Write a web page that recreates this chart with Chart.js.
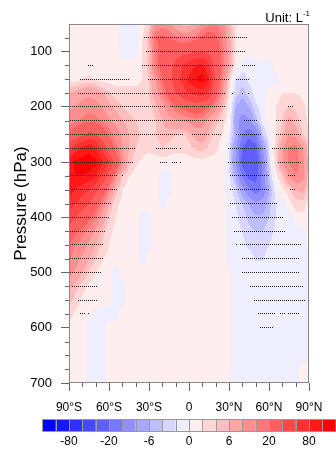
<!DOCTYPE html>
<html>
<head>
<meta charset="utf-8">
<script src="https://cdn.jsdelivr.net/npm/chart.js@4/dist/chart.umd.min.js"></script>
<style>
  html, body { margin: 0; padding: 0; background: #fff; }
  canvas { display: block; }
</style>
</head>
<body>
<canvas id="myChart" width="336" height="449"></canvas>
<script>
var FONT = '"Liberation Sans", Arial, Helvetica, sans-serif';

// grid of the field: latitude columns, pressure rows
var lats = [-90,-85,-80,-75,-70,-65,-60,-55,-50,-45,-40,-35,-30,-25,-20,-15,-10,-5,0,
            5,10,15,20,25,30,35,40,45,50,55,60,65,70,75,80,85,90];
var pressures = [50,75,100,125,150,175,200,225,250,275,300,325,350,375,400,425,450,475,
                 500,525,550,575,600,625,650,675,700];

// one row per pressure level, one value per latitude (L^-1)
var field = [
  [1,1,1,1,1,1,1,1,-1,-1,-1,1,3,10,12,11,6,5,5,7,10,14,15,12,6,2,1,1,1,1,1,1,1,1,1,1,1],
  [1,1,1,1,1,1,1,1,-1,-1,-1,2,5,20,22,20,16,13,13,16,22,25,22,15,7,2,1,1,1,1,1,1,1,1,1,1,1],
  [1,1,1,1,1,1,1,1,-1,-1,-1,2,5,17,25,32,32,32,35,40,40,35,30,17,8,2,1,1,1,1,1,1,1,1,1,1,1],
  [1,1,1,1,1,1,1,1,1,1,1,2,5,17,25,32,45,60,70,80,85,60,30,17,8,1,-1,-2,-1,-1,-1,1,1,1,1,1,1],
  [1,1,2,2.5,1.5,1,1,1,1,1,1,2,4,10,20,35,50,65,85,100,110,80,35,14,3,-2,-3,-1.5,-1,-1,-1,-1,1,1,1,1,1],
  [6,7,8,9,8,6,4,3,3,3,3,3,4,8,14,25,40,50,60,65,70,55,25,10,2,-3,-5,-3,-1,-1,1,1,2,2,2,1.5,1],
  [9,10,12,13,12,10,7,5,4,3,3,3,3,5,8,13,18,22,25,30,25,18,12,5,1,-6,-8,-6,-2.5,-1,1,2,3,4,3.5,2.5,1.5],
  [12,14,16,18,17,14,11,8,6,5,4,3,2.5,4,6,8,9,10,11,13,12,8,5,3,1,-8,-12,-11,-5,-1.5,1,2,4,7,5,3,1.5],
  [20,28,35,45,40,28,18,13,9,6,5,3.5,3,4,5,5,4,3,5,7,8,5,3,2,-1,-6,-15,-18,-15,-4,-1,2,5,10,8,4,2],
  [50,70,85,95,80,55,30,17,10,6,4,3,2.5,3,4,3,2.5,2.5,3,4.5,5,3.5,2.5,1,-2,-9,-20,-25,-22,-10,-2,3,9,16,17,10,4],
  [90,105,110,112,105,85,60,30,12,5,2.5,1.5,1,1,1,1,1,1,1,1,1,1,1,1,-2,-10,-22,-28,-25,-14,-3,3,9,16,18,12,5],
  [95,100,100,95,80,55,30,12,4,2,1,1,1,1,-1,-1,1,1,1,1,1,1,1,1,-1.5,-6,-16,-22,-22,-14,-4,1,4,10,15,12,4],
  [90,80,70,60,45,28,13,5,2,1,1,1,1,1,-1,-1,1,1,1,1,1,1,1,1,-1,-3,-8,-14,-18,-14,-6,-1,1.5,3,6,7,3],
  [70,60,50,40,25,14,6,2.5,1.5,1,1,1,1,1,-1,1,1,1,1,1,1,1,1,1,-1,-2,-4,-6,-9,-8,-5,-2,-1,1.5,3,3,1.5],
  [50,40,30,22,15,8,4,2,1,1,1,-1,-1,1,1,1,1,1,1,1,1,1,1,1,-1,-1.5,-3,-4.5,-5.5,-5.5,-4,-2,-1,-1,1,1.5,1],
  [30,22,17,13,9,5,2.5,1.5,1,1,1,-1,-1,1,1,1,1,1,1,1,1,1,1,1,-1,-1,-2,-3.5,-4,-4,-3,-1.5,-1,-1,-1,-1,1],
  [18,15,12,9,6,3.5,2,1,1,1,1,-1,-1,1,1,1,1,1,1,1,1,1,1,1,-1,-1,-1.5,-2.5,-3,-3,-2,-1,-1,-1,-1,-1,1],
  [16,12,9,6,4,2,1.5,1,1,1,1,-1,1,1,1,1,1,1,1,1,1,1,1,1,-1,-1,-1,-1,-2.2,-2.2,-1,-1,-1,-1,-1,-1,-1],
  [12,9,6,3.5,2,1,1,-1,1,1,1,1,1,1,1,1,1,1,1,1,1,1,1,1,0.5,-1,-1,-1,-1,-1,-1,-1,-1,-1,-1,-1,-1],
  [7,5,3,1.5,1,1,1,-1,-1,1,1,1,1,1,1,1,1,1,1,1,1,1,1,1,0.5,-1,-1,-1,-1,-1,-1,-1,-1,-1,-1,-1,-1],
  [5,3,1.5,1,1,1,1,-1,-1,1,1,1,1,1,1,1,1,1,1,1,1,1,1,1,0.5,-1,-1,-1,-1,-1,-1,-1,-1,-1,-1,-1,-1],
  [3,1.5,1,1,-1,-1,-1,-1,1,1,1,1,1,1,1,1,1,1,1,1,1,1,1,1,0.5,-1,-1,-1,-1,-1,-1,-1,-1,-1,-1,-1,-1],
  [1,1,1,-1,-1,-1,1,1,1,1,1,1,1,1,1,1,1,1,1,1,1,1,1,1,0.5,-1,-1,-1,-1,-1,-1,-1,-1,-1,-1,-1,-1],
  [1,1,1,-1,-1,-1,1,1,1,1,1,1,1,1,1,1,1,1,1,1,1,1,1,1,0.5,-1,-1,-1,-1,-1,-1,-1,-1,-1,-1,-1,-1],
  [1,1,1,-1,-1,-1,1,1,1,1,1,1,1,1,1,1,1,1,1,1,1,1,1,1,0.5,-1,-1,-1,-1,-1,-1,-1,-1,-1,-1,-1,-1],
  [1,1,1,-1,-1,-1,1,1,1,1,1,1,1,1,1,1,1,1,1,1,1,1,1,1,0.5,-1,-1,-1,-1,-1,-1,-1,-1,-1,-1,1,1],
  [1,1,1,-1,-1,-1,1,1,1,1,1,1,1,1,1,1,1,1,1,1,1,1,1,1,0.5,-1,-1,-1,-1,-1,-1,-1,-1,-1,-1,1,1]
];

// contour levels and the 22 fill colours between them
var levels = [-100,-80,-60,-40,-20,-15,-10,-6,-4,-2,0,2,4,6,10,15,20,40,60,80,100];
var levelLabels = ['-80','-20','-6','0','6','20','80'];
var fillColors = ['#0000ff','#1818ff','#3030ff','#4747ff','#5f5fff','#7777ff','#8f8fff',
                  '#a7a7ff','#bebeff','#d6d6ff','#eeeeff',
                  '#ffeeee','#ffd6d6','#ffbebe','#ffa7a7','#ff8f8f','#ff7777','#ff5f5f',
                  '#ff4747','#ff3030','#ff1818','#ff0000'];

// significant points: [pressure, from lat, to lat]
var stipple = [
  [50,-25.5,-16],[50,23,38],
  [75,-34,43],
  [100,-32,41],
  [125,-76,-72],[125,-35.5,-32.5],[125,-30,33],[125,40,49],
  [150,-81,-46],[150,-30,30],[150,35,45],
  [175,-83,26],[175,32.5,32.5],[175,40,40],[175,44.5,44.5],
  [200,-89,-18],[200,-14,26],[200,74,77],
  [225,-89,25],[225,42,51],[225,66,83],
  [250,-89,-5],[250,2,13],[250,15,15],[250,18,24],[250,36,53],[250,66,83],
  [275,-89,-40.5],[275,-24,-9],[275,-7,-7],[275,30,57],[275,63,85],
  [300,-89,-42],[300,-22,-17],[300,-13,-10],[300,-7,-7],[300,30,58],[300,67,83],
  [325,-89,-55],[325,-50,-50],[325,30.5,60],[325,74,79],
  [350,-89,-55],[350,30.5,60],[350,76,79],
  [375,-89,-59],[375,30.5,66],
  [400,-89,-61],[400,32.5,70],
  [425,-89,-63],[425,34.5,71.5],
  [450,-89,-65],[450,35,35],[450,38,83],
  [475,-89,-65],[475,40,82.5],
  [500,-89,-67],[500,40,82.5],
  [525,-87,-69],[525,46,84.5],
  [550,-83,-70],[550,49.5,86],
  [575,-81,-78],[575,-75,-75],[575,51.5,64],[575,68,72],[575,74.5,82.5],
  [600,53,62]
];

var latLabels = {'-90':'90°S', '-60':'60°S', '-30':'30°S', '0':'0', '30':'30°N', '60':'60°N', '90':'90°N'};

// stipple dots sit on a 1.5 degree grid
var dots = [];
for (var s = 0; s < stipple.length; s++) {
  for (var lat = -89.25; lat <= 89.25; lat += 1.5) {
    if (lat >= stipple[s][1] - 0.75 && lat < stipple[s][2] + 0.75) {
      dots.push({x: lat, y: stipple[s][0]});
    }
  }
}

// a single dark pixel used as the point style
var dotImg = document.createElement('canvas');
dotImg.width = 1;
dotImg.height = 1;
var dctx = dotImg.getContext('2d');
dctx.fillStyle = '#1c1c1c';
dctx.fillRect(0, 0, 1, 1);

function fieldValue(lat, p) {
  var fi = (lat - lats[0]) / (lats[1] - lats[0]);
  var fj = (p - pressures[0]) / (pressures[1] - pressures[0]);
  fi = Math.max(0, Math.min(lats.length - 1, fi));
  fj = Math.max(0, Math.min(pressures.length - 1, fj));
  var i0 = Math.min(Math.floor(fi), lats.length - 2);
  var j0 = Math.min(Math.floor(fj), pressures.length - 2);
  var tx = fi - i0, ty = fj - j0;
  var top = field[j0][i0] * (1 - tx) + field[j0][i0 + 1] * tx;
  var bot = field[j0 + 1][i0] * (1 - tx) + field[j0 + 1][i0 + 1] * tx;
  return top * (1 - ty) + bot * ty;
}

function levelIndex(v) {
  var n = 0;
  for (var k = 0; k < levels.length; k++) {
    if (v >= levels[k]) n++;
  }
  return n;
}

function hexRgb(h) {
  return [parseInt(h.substr(1, 2), 16), parseInt(h.substr(3, 2), 16), parseInt(h.substr(5, 2), 16)];
}
var rgbColors = fillColors.map(hexRgb);

// filled contours, painted pixel by pixel through the chart scales
var fieldPlugin = {
  id: 'field',
  beforeDatasetsDraw: function(chart) {
    var a = chart.chartArea, xs = chart.scales.x, ys = chart.scales.y;
    var w = Math.round(a.right - a.left), h = Math.round(a.bottom - a.top);
    var off = document.createElement('canvas');
    off.width = w; off.height = h;
    var octx = off.getContext('2d');
    var img = octx.createImageData(w, h);
    for (var j = 0; j < h; j++) {
      var p = ys.getValueForPixel(a.top + j + 0.5);
      for (var i = 0; i < w; i++) {
        var la = xs.getValueForPixel(a.left + i + 0.5);
        var c = rgbColors[levelIndex(fieldValue(la, p))];
        var o = (j * w + i) * 4;
        img.data[o] = c[0]; img.data[o + 1] = c[1]; img.data[o + 2] = c[2]; img.data[o + 3] = 255;
      }
    }
    octx.putImageData(img, 0, 0);
    chart.ctx.drawImage(off, a.left, a.top);
    // keep the stipple pixels crisp
    chart.ctx.imageSmoothingEnabled = false;
  }
};

// frame, minor ticks, colour bar and unit
var decorPlugin = {
  id: 'decor',
  afterDatasetsDraw: function(chart) {
    var ctx = chart.ctx, a = chart.chartArea, xs = chart.scales.x, ys = chart.scales.y;
    ctx.imageSmoothingEnabled = true;
    ctx.save();
    ctx.strokeStyle = '#888';
    ctx.lineWidth = 1;
    ctx.strokeRect(Math.round(a.left) + 0.5, Math.round(a.top) + 0.5,
                   Math.round(a.right - a.left) - 1, Math.round(a.bottom - a.top) - 1);
    ctx.strokeStyle = '#666';
    ctx.beginPath();
    for (var v = -80; v < 90; v += 10) {
      if (v % 30 === 0) continue;
      var px = Math.round(xs.getPixelForValue(v)) + 0.5;
      ctx.moveTo(px, a.bottom); ctx.lineTo(px, a.bottom + 4);
    }
    for (var q = 75; q < 700; q += 25) {
      if (q % 100 === 0) continue;
      var py = Math.round(ys.getPixelForValue(q)) + 0.5;
      ctx.moveTo(a.left - 4, py); ctx.lineTo(a.left, py);
    }
    ctx.stroke();
    ctx.restore();
  },
  afterDraw: function(chart) {
    var ctx = chart.ctx, a = chart.chartArea;
    ctx.save();
    // colour bar, one box per interval
    var bw = (a.right - a.left) / 18;
    var x0 = (a.left + a.right) / 2 - 11 * bw;
    var y0 = 419, bh = 13;
    for (var k = 0; k < fillColors.length; k++) {
      ctx.fillStyle = fillColors[k];
      ctx.fillRect(x0 + k * bw, y0, bw, bh);
    }
    ctx.strokeStyle = '#999';
    ctx.lineWidth = 1;
    ctx.beginPath();
    for (var e = 0; e <= fillColors.length; e++) {
      var ex = Math.round(x0 + e * bw) + 0.5;
      ctx.moveTo(ex, y0); ctx.lineTo(ex, y0 + bh);
    }
    ctx.moveTo(x0, y0 + 0.5); ctx.lineTo(x0 + 22 * bw, y0 + 0.5);
    ctx.moveTo(x0, y0 + bh - 0.5); ctx.lineTo(x0 + 22 * bw, y0 + bh - 0.5);
    ctx.stroke();
    ctx.fillStyle = '#000';
    ctx.font = '12px ' + FONT;
    ctx.textAlign = 'center';
    ctx.textBaseline = 'middle';
    for (var m = 0; m < levelLabels.length; m++) {
      ctx.fillText(levelLabels[m], x0 + (2 + 3 * m) * bw, 442);
    }
    // unit in the top right corner
    ctx.textAlign = 'right';
    ctx.textBaseline = 'alphabetic';
    ctx.font = '8px ' + FONT;
    ctx.fillText('-1', a.right + 1, 16);
    var sup = ctx.measureText('-1').width;
    ctx.font = '13px ' + FONT;
    ctx.fillText('Unit: L', a.right + 1 - sup, 21.5);
    ctx.restore();
  }
};

var ctx = document.getElementById('myChart').getContext('2d');
var myChart = new Chart(ctx, {
  type: 'scatter',
  data: {
    datasets: [{
      data: dots,
      pointStyle: dotImg,
      pointRadius: 1,
      borderWidth: 0
    }]
  },
  options: {
    responsive: false,
    animation: false,
    events: [],
    layout: { padding: { left: 0, right: 27, top: 24, bottom: 34 } },
    plugins: {
      legend: { display: false },
      tooltip: { enabled: false }
    },
    scales: {
      x: {
        type: 'linear',
        min: -90,
        max: 90,
        ticks: {
          stepSize: 30,
          padding: 9,
          color: '#000',
          font: { family: FONT, size: 12 },
          maxRotation: 0,
          callback: function(v) { return latLabels[v]; }
        },
        grid: { drawOnChartArea: false, tickLength: 8, tickColor: '#666' },
        border: { display: false },
        afterFit: function(s) { s.height = 32; }
      },
      y: {
        type: 'linear',
        reverse: true,
        min: 50,
        max: 700,
        afterBuildTicks: function(s) {
          s.ticks = s.ticks.filter(function(t) { return t.value % 100 === 0; });
        },
        ticks: {
          stepSize: 100,
          padding: 9,
          color: '#000',
          font: { family: FONT, size: 13 }
        },
        title: {
          display: true,
          text: 'Pressure (hPa)',
          color: '#000',
          font: { family: FONT, size: 17 },
          padding: { top: 11, bottom: 0 }
        },
        grid: { drawOnChartArea: false, tickLength: 8, tickColor: '#666' },
        border: { display: false },
        afterFit: function(s) { s.width = 69; }
      }
    }
  },
  plugins: [fieldPlugin, decorPlugin]
});
</script>
</body>
</html>
